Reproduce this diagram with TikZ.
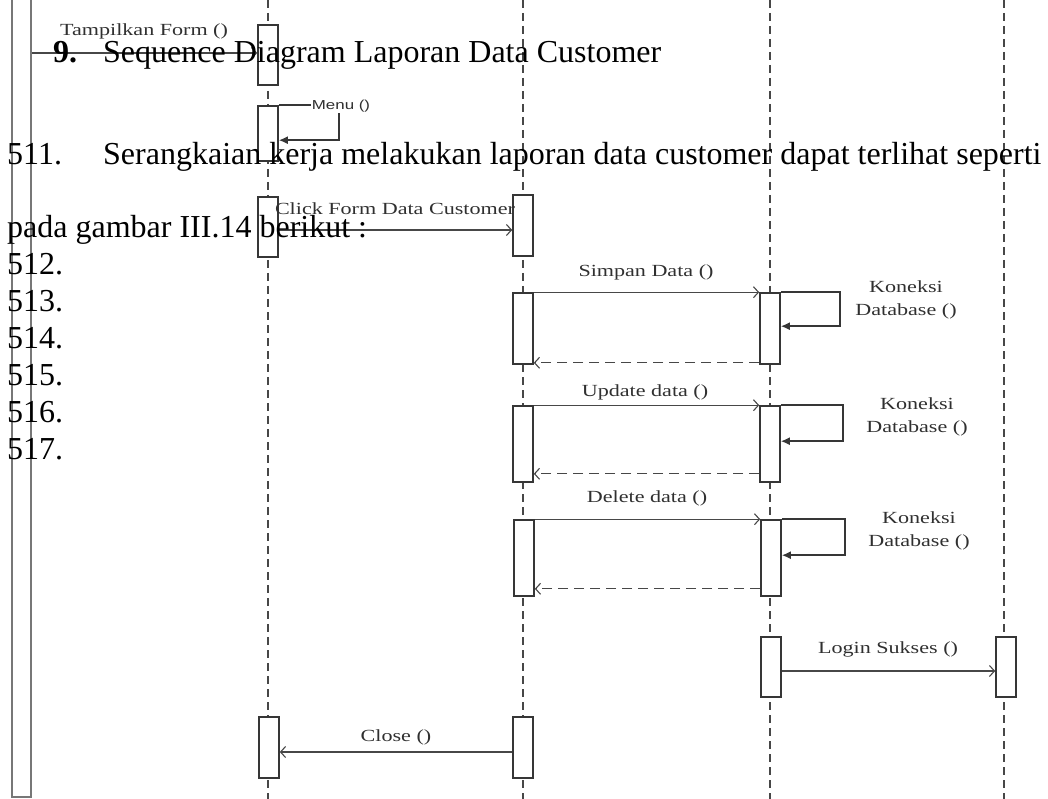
\documentclass[tikz,border=0pt]{standalone}
\usepackage{fontspec}
\setmainfont{Liberation Serif}
\newfontfamily\diaserif[FakeStretch=1.3]{Liberation Serif}
\newfontfamily\diasans[FakeStretch=1.3]{Liberation Sans}
\usepackage{xcolor}
\usepackage{tikz}
\usetikzlibrary{arrows.meta, positioning, calc}

\definecolor{boxgray}{HTML}{363636}
\definecolor{linegray}{HTML}{474747}
\definecolor{labelgray}{HTML}{303030}
\definecolor{actorgray}{HTML}{777777}

\tikzset{
    lifeline/.style={draw=linegray, line width=1.2pt, dash pattern=on 8pt off 5pt},
    actbox/.style={rectangle, draw=boxgray, fill=white, line width=1.6pt, minimum width=20pt, inner sep=0pt},
    msg/.style={draw=linegray, line width=1.3pt, -{Straight Barb[length=5pt,width=11pt,line width=1.1pt]}},
    reply/.style={msg, dash pattern=on 10pt off 6pt},
    selfmsg/.style={draw=boxgray, line width=1.5pt, -{Latex[length=9pt,width=8pt]}},
    lbl/.style={font=\diaserif\fontsize{17}{23}\selectfont, text=labelgray, inner sep=1pt, align=center},
    doctext/.style={font=\fontsize{32}{37}\selectfont, anchor=base west, inner sep=0pt},
}

\begin{document}
\begin{tikzpicture}[x=1pt, y=-1pt]
    \useasboundingbox (0,0) rectangle (1048,799);
    \clip (0,0) rectangle (1048,799);

    % lifelines
    \coordinate (top1) at (268,0);  \coordinate (bot1) at (268,799);
    \coordinate (top2) at (523,0);  \coordinate (bot2) at (523,799);
    \coordinate (top3) at (770,0);  \coordinate (bot3) at (770,799);
    \coordinate (top4) at (1004,0); \coordinate (bot4) at (1004,799);
    \draw[lifeline] (top1) -- (bot1);
    \draw[lifeline] (top2) -- (bot2);
    \draw[lifeline] (top3) -- (bot3);
    \draw[lifeline] (top4) -- (bot4);

    % activation boxes
    \node[actbox, draw=actorgray, line width=2.5pt, minimum width=19pt, minimum height=820pt] (actor) at (21.5,387) {};
    \node[actbox, minimum height=60pt] (t1) at (268,55) {};
    \node[actbox, minimum height=55pt] (m1) at (268,133.5) {};
    \node[actbox, minimum height=60pt] (c1) at (268,227) {};
    \node[actbox, minimum height=61pt] (c2) at (523,225.5) {};
    \node[actbox, minimum height=71pt] (s2) at (523,328.5) {};
    \node[actbox, minimum height=71pt] (s3) at (770,328.5) {};
    \node[actbox, minimum height=76pt] (u2) at (523,444) {};
    \node[actbox, minimum height=76pt] (u3) at (770,444) {};
    \node[actbox, minimum height=76pt] (d2) at (524,558) {};
    \node[actbox, minimum height=76pt] (d3) at (771,558) {};
    \node[actbox, minimum height=60pt] (g3) at (771,667) {};
    \node[actbox, minimum height=60pt] (g4) at (1006,667) {};
    \node[actbox, minimum height=61pt] (x1) at (269,747.5) {};
    \node[actbox, minimum height=61pt] (x2) at (523,747.5) {};

    % messages
    \draw[msg] ([yshift=2pt]t1.west -| actor.east) -- ([yshift=2pt]t1.west);
    \coordinate (mret) at ([yshift=-35pt]m1.north east);
    \draw[selfmsg] (m1.north east) -- ++(60,0) |- (mret);
    \draw[msg] ([yshift=-3pt]c1.east) -- ([yshift=-3pt]c1.east -| c2.west);

    \draw[msg] (s2.north east) -- (s3.north west);
    \coordinate (kret1) at ([yshift=-34pt]s3.north east);
    \draw[selfmsg] (s3.north east) -- ++(59,0) |- (kret1);
    \draw[reply] ([yshift=2pt]s3.south west) -- ([yshift=2pt]s2.south east);

    \draw[msg] (u2.north east) -- (u3.north west);
    \coordinate (kret2) at ([yshift=-36pt]u3.north east);
    \draw[selfmsg] (u3.north east) -- ++(62,0) |- (kret2);
    \draw[reply] ([yshift=9pt]u3.south west) -- ([yshift=9pt]u2.south east);

    \draw[msg] (d2.north east) -- (d3.north west);
    \coordinate (kret3) at ([yshift=-36pt]d3.north east);
    \draw[selfmsg] (d3.north east) -- ++(63,0) |- (kret3);
    \draw[reply] ([yshift=8pt]d3.south west) -- ([yshift=8pt]d2.south east);

    \draw[msg] ([yshift=-4pt]g3.east) -- ([yshift=-4pt]g3.east -| g4.west);
    \draw[msg] ([yshift=-4.5pt]x2.west) -- ([yshift=-4.5pt]x2.west -| x1.east);

    % message labels
    \node[lbl] (ltampil) at (144,31) {Tampilkan Form ()};
    \node[lbl, font=\diasans\fontsize{13}{16}\selectfont, fill=white] (lmenu) at (341,106) {Menu ()};
    \node[lbl] (lclick) at (395,209) {Click Form Data Customer};
    \node[lbl] (lsimpan) at (646,272) {Simpan Data ()};
    \node[lbl] (lkon1) at (906,300) {Koneksi\\Database ()};
    \node[lbl] (lupdate) at (645,392) {Update data ()};
    \node[lbl] (lkon2) at (917,417) {Koneksi\\Database ()};
    \node[lbl] (ldelete) at (647,498) {Delete data ()};
    \node[lbl] (lkon3) at (919,531) {Koneksi\\Database ()};
    \node[lbl] (llogin) at (888,649) {Login Sukses ()};
    \node[lbl] (lclose) at (396,737) {Close ()};

    % document text lying over the picture
    \node[doctext, font=\fontsize{32}{37}\selectfont\bfseries] (num9) at (53,63) {9.};
    \node[doctext] (title) at (103,63) {Sequence Diagram Laporan Data Customer};
    \node[doctext] (n511) at (7,165) {511.};
    \node[doctext] (para1) at (103,165) {Serangkaian kerja melakukan laporan data customer dapat terlihat seperti};
    \node[doctext] (para2) at (7,238) {pada gambar III.14 berikut :};
    \node[doctext] (n512) at (7,275) {512.};
    \node[doctext] (n513) at (7,311.5) {513.};
    \node[doctext] (n514) at (7,348.5) {514.};
    \node[doctext] (n515) at (7,385) {515.};
    \node[doctext] (n516) at (7,422) {516.};
    \node[doctext] (n517) at (7,459) {517.};
\end{tikzpicture}
\end{document}
